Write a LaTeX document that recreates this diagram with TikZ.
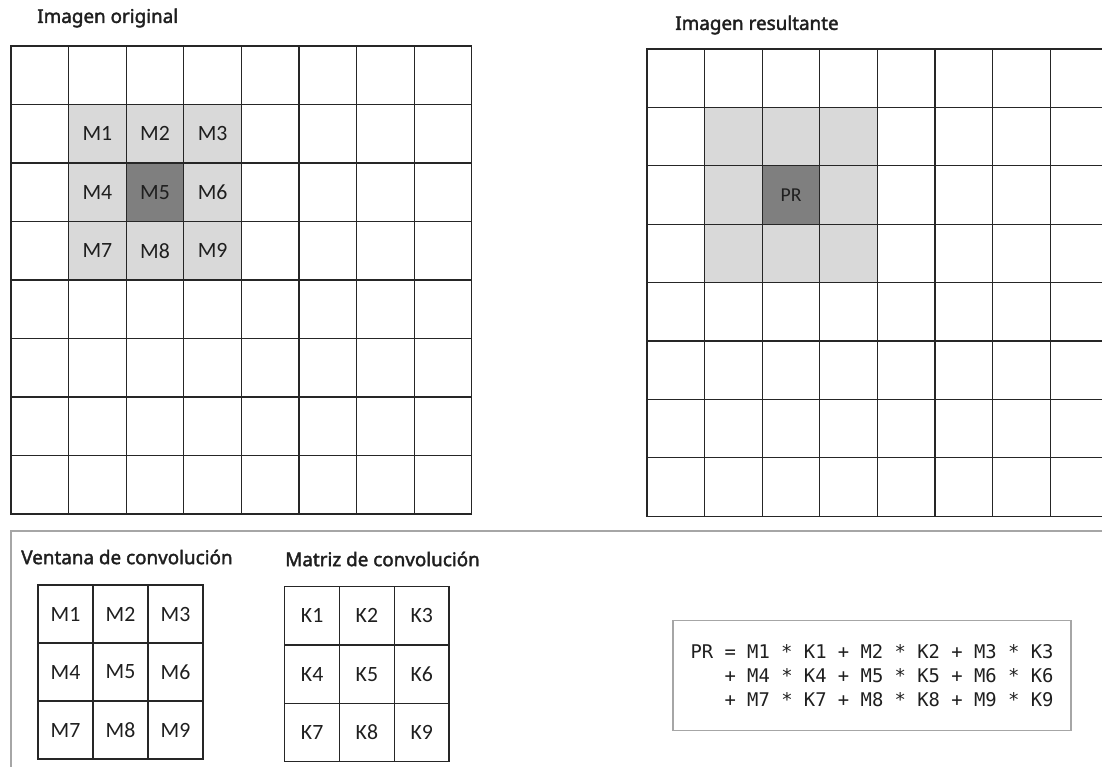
\documentclass[tikz,border=0pt]{standalone}
\usepackage{fontspec}
\setmainfont{Carlito}
\setmonofont{DejaVu Sans Mono}
\newfontfamily\headfont[FakeBold=2]{Noto Sans}
\usetikzlibrary{positioning}
\definecolor{cline}{HTML}{262626}
\definecolor{clight}{HTML}{D9D9D9}
\definecolor{cdark}{HTML}{7F7F7F}
\definecolor{cframe}{HTML}{A6A6A6}
\definecolor{ctext}{HTML}{1F1F1F}
\tikzset{
  cellbase/.style={draw=cline, line width=0.9pt, inner sep=0pt, outer sep=0pt,
                   text=ctext, font=\fontsize{15.5}{18}\selectfont},
  origcell/.style={cellbase, minimum width=1.44cm, minimum height=1.4625cm},
  rescell/.style={cellbase, minimum width=1.44cm, minimum height=1.46cm},
  wincell/.style={cellbase, minimum width=1.375cm, minimum height=1.45cm},
  matcell/.style={cellbase, minimum width=1.37cm, minimum height=1.458cm},
  headlabel/.style={anchor=west, text=ctext, inner sep=0pt,
                    font=\headfont\fontsize{13.4}{16}\selectfont},
  frameline/.style={draw=cframe, line width=1.1pt},
}

\begin{document}
\begin{tikzpicture}[x=0.025cm, y=-0.025cm]

  \useasboundingbox (0,0) rectangle (1102,767);
  \clip (0,0) rectangle (1102,767);

  %% ═══════════ TOP LEFT: Imagen original ═══════════
  \node[headlabel] (origtitle) at (37,18) {Imagen original};

  \foreach \r in {1,...,8}{
    \foreach \c in {1,...,8}{
      \node[origcell] (orig-\r-\c) at ({11+(\c-0.5)*57.6},{46+(\r-0.5)*58.5}) {};
    }
  }

  %% Convolution window over the input (3x3, centre darker)
  \foreach \r/\c/\lab in {2/2/M1, 2/3/M2, 2/4/M3, 3/2/M4, 3/4/M6,
                          4/2/M7, 4/3/M8, 4/4/M9}{
    \node[origcell, fill=clight] (win-\lab) at (orig-\r-\c) {\lab};
  }
  \node[origcell, fill=cdark] (win-M5) at (orig-3-3) {M5};

  %% ═══════════ TOP RIGHT: Imagen resultante ═══════════
  \node[headlabel] (restitle) at (675,25) {Imagen resultante};

  \foreach \r in {1,...,8}{
    \foreach \c in {1,...,8}{
      \node[rescell] (res-\r-\c) at ({647+(\c-0.5)*57.6},{49+(\r-0.5)*58.4}) {};
    }
  }

  %% Neighbourhood of the result pixel
  \foreach \r/\c in {2/2, 2/3, 2/4, 3/2, 3/4, 4/2, 4/3, 4/4}{
    \node[rescell, fill=clight] (nb-\r-\c) at (res-\r-\c) {};
  }
  \node[rescell, fill=cdark, font=\fontsize{14}{16}\selectfont] (pr) at (res-3-3) {PR};

  %% ═══════════ BOTTOM: window, kernel, formula ═══════════
  \draw[frameline] (11,767) -- (11,531) -- (1102,531);

  \node[headlabel] (wintitle) at (21,557) {Ventana de convolución};
  \node[headlabel] (mattitle) at (285,559) {Matriz de convolución};

  %% Ventana de convolución
  \foreach \lab [count=\i from 0] in {M1,M2,M3,M4,M5,M6,M7,M8,M9}{
    \pgfmathtruncatemacro{\rr}{int(\i/3)}
    \pgfmathtruncatemacro{\cc}{mod(\i,3)}
    \node[wincell] (w-\lab) at ({38+(\cc+0.5)*55},{585+(\rr+0.5)*58}) {\lab};
  }

  %% Matriz de convolución
  \foreach \lab [count=\i from 0] in {K1,K2,K3,K4,K5,K6,K7,K8,K9}{
    \pgfmathtruncatemacro{\rr}{int(\i/3)}
    \pgfmathtruncatemacro{\cc}{mod(\i,3)}
    \node[matcell] (k-\lab) at ({284.7+(\cc+0.5)*54.8},{586.7+(\rr+0.5)*58.3}) {\lab};
  }

  %% Formula box
  \node[frameline, minimum width=9.94cm, minimum height=2.76cm, inner sep=0pt,
        align=left, text=ctext, font=\ttfamily\fontsize{13.4}{17}\selectfont]
    (formula) at (872,675.5)
    {PR = M1 * K1 + M2 * K2 + M3 * K3\\
     \hphantom{PR\ }+ M4 * K4 + M5 * K5 + M6 * K6\\
     \hphantom{PR\ }+ M7 * K7 + M8 * K8 + M9 * K9};

\end{tikzpicture}
\end{document}
